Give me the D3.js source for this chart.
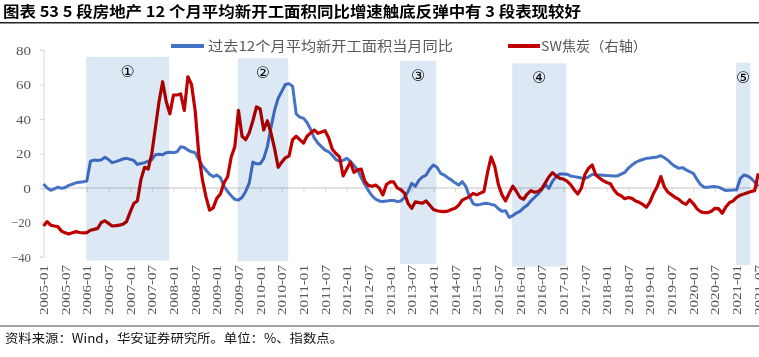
<!DOCTYPE html>
<html><head><meta charset="utf-8">
<script src="https://cdn.jsdelivr.net/npm/d3@7"></script>
<style>body{margin:0;background:#fff}svg{display:block}</style>
</head><body><svg id="c" width="759" height="357"></svg>
<script>
const startMonth = "2005-01";
const tickLabels = ["2005-01","2005-07","2006-01","2006-07","2007-01","2007-07","2008-01","2008-07","2009-01","2009-07","2010-01","2010-07","2011-01","2011-07","2012-01","2012-07","2013-01","2013-07","2014-01","2014-07","2015-01","2015-07","2016-01","2016-07","2017-01","2017-07","2018-01","2018-07","2019-01","2019-07","2020-01","2020-07","2021-01","2021-07"];
const yTicks = [80,60,40,20,0,-20,-40];
// 过去12个月平均新开工面积当月同比 (monthly from 2005-01)
const newStartsYoY = [2.3,0,-1.3,-0.5,0.5,-0.2,0.3,1.5,2.2,3,3.3,3.6,4,15.5,16.2,16,16.3,17.8,16.5,14.7,15.3,16,16.8,17.2,16.6,16,13.7,14.2,14.7,15.5,
16.5,19.3,19.5,19.3,20.5,20.7,20.5,21,23.9,23.5,22,21,20.5,16.5,13,10.4,8,6.6,7.5,6,
1,-2,-4.5,-6.6,-7,-5.5,-2,3,15,14,14,17,24,35,45,52,56,60,60.5,59,
43,41,40.5,38,34,29,26,24,22,21,19,16.5,15.5,16,17.2,15.5,13,10.5,6,2,
-1.5,-4.5,-6.5,-7.5,-7.8,-7.6,-7.3,-7.2,-7.9,-7.5,-5.5,-2,2.7,1,4.5,6.5,7.5,11,13.3,12,
8.5,7.5,6,4.6,3,1.7,3.7,0.8,-5,-9,-9.9,-9.5,-9,-8.9,-9.5,-10,-12,-13.5,-13.2,-17,
-16,-14.5,-13.5,-11.5,-10,-7.5,-5.5,-3.5,-1,2,-0.2,4,6.5,8.1,8.1,8,7,6.6,6.2,5.8,
5.6,6.5,7.9,7.6,7.5,7.4,7.2,7.1,7,7,8,9,11.5,13.3,14.8,15.8,16.5,17.2,17.4,17.7,
18,18.7,17.5,16,14,12.5,11.4,11.8,10.5,9.5,8.5,5,2,0.4,0.5,0.7,0.8,0.5,-0.5,-1.5,
-1.3,-1.2,-1,5.5,7.5,7,5.6,3.5,0.8];
// SW焦炭（右轴）
const swCoke = [-22,-19.5,-21.5,-22,-22.4,-25,-26,-26.7,-26,-25.3,-25.8,-26,-25.9,-24.5,-24,-23.4,-20,-19,-20.5,-22,-21.8,-21.5,-21,-19.5,-14,-9,-7.5,5,12,11,
20,35,50,61.6,50,43,53.9,53.9,54.5,45,64.5,60,45,20,5,-5,-12.8,-11.5,-6,-3.5,
3,6.5,18,24,45,30,28,32,39,47,46,33.6,39,32,23,12,15,17.5,18.5,28,
30,28,26,30,32,33.6,31.7,32.5,33.2,29,22.5,20,18,7,11,15,9,10.5,11,4,
1.5,1,1.7,0,-4,2,3.5,3.5,0,-1,-3,-9,-11.8,-8,-8.5,-8.8,-7.5,-10,-12.5,-13.2,
-13.6,-13.7,-13.4,-12.5,-11.8,-10,-7,-6,-5,-3.1,-4,-3,-2,9,18,12.5,2,-4,-7.5,-3,
1,-2,-5.5,-6.5,-3.5,-1.5,-2.5,-2,-0.5,3,6.5,8.9,7,5.6,5.2,4,2,-1,-3.5,0,
8,11.5,13.3,7.5,5.8,4.3,3.2,2.5,-1,-3.5,-4.5,-6.2,-5.5,-6,-7.5,-8.3,-9.5,-11.2,-8,-3,
0.8,6.6,0.5,-2.5,-4,-5.5,-6.6,-8.5,-9.5,-6.8,-9,-12,-13.7,-14.3,-14.3,-13.5,-11.8,-12,-14.7,-11,
-8.5,-7.5,-5.4,-4.2,-3.5,-2.7,-2,-1.5,8.5];
// shaded phases
const bandLabels = ["①","②","③","④","⑤"];
const bandStart = ["2006-01","2009-07","2013-04","2015-11","2021-01"];
const bandEnd   = ["2007-11","2010-08","2014-01","2017-01","2021-04"];
const bandTop   = [76,75.2,73.8,72.3,72.6];
const bandBottom= [-42,-42.3,-44,-45.6,-44.6];

const mIdx = s => { const [y,m] = s.split("-").map(Number); const [y0,m0] = startMonth.split("-").map(Number); return (y-y0)*12 + (m-m0); };

const svg = d3.select("#c");
const x = d3.scaleLinear().domain([0,198]).range([43.5, 758.3]);
const y = d3.scaleLinear().domain([-40,80]).range([257,50]);
const gray = "#595959", axisC = "#d9d9d9";
const serif = "'Liberation Serif','Times New Roman',serif";
const cjk = "'Noto Sans CJK SC','Noto Sans',sans-serif";

// title
svg.append("text").attr("x",3).attr("y",17).attr("font-family",cjk).attr("font-weight","bold")
  .attr("font-size",15).attr("fill","#000").attr("textLength",578).attr("lengthAdjust","spacingAndGlyphs")
  .text("图表 53 5 段房地产 12 个月平均新开工面积同比增速触底反弹中有 3 段表现较好");
svg.append("line").attr("x1",0).attr("x2",759).attr("y1",22.7).attr("y2",22.7).attr("stroke","#222").attr("stroke-width",1.4);
svg.append("line").attr("x1",0).attr("x2",759).attr("y1",326).attr("y2",326).attr("stroke","#444").attr("stroke-width",1.2);
svg.append("text").attr("x",5).attr("y",343).attr("font-family",cjk).attr("font-size",12.5).attr("fill","#111")
  .attr("textLength",338).attr("lengthAdjust","spacingAndGlyphs")
  .text("资料来源：Wind，华安证券研究所。单位：%、指数点。");

// y axis
const yAxis = svg.append("g").attr("transform","translate(44,0)")
  .call(d3.axisLeft(y).tickValues(yTicks).tickSize(4).tickPadding(9).tickFormat(d3.format("d")));
yAxis.select(".domain").attr("stroke",axisC).attr("d","M-4,"+y(80)+"H0V"+y(-40)+"H-4");
yAxis.selectAll(".tick line").attr("stroke",axisC);
yAxis.selectAll(".tick text").attr("fill",gray).attr("font-family",serif).attr("font-size",13)
  .attr("textLength",function(d){return d<0?20:(d===0?7.7:15);}).attr("lengthAdjust","spacingAndGlyphs");

// zero axis with ticks
const tickPos = tickLabels.map(mIdx);
const xAxis = svg.append("g").attr("transform","translate(0,"+y(0)+")")
  .call(d3.axisBottom(x).tickValues(tickPos).tickSize(4).tickFormat(""));
xAxis.select(".domain").attr("stroke",axisC).attr("stroke-width",1.3).attr("d","M44,0H759");
xAxis.selectAll(".tick line").attr("stroke",axisC);

// x labels (rotated)
svg.append("g").selectAll("text").data(tickLabels).join("text")
  .attr("transform",d=>"translate("+(x(mIdx(d))+4.5)+",265) rotate(-90)")
  .attr("text-anchor","end").attr("font-family",serif).attr("font-size",12.5).attr("fill",gray)
  .attr("textLength",50).attr("lengthAdjust","spacingAndGlyphs").text(d=>d);

// lines
const line = d3.line().x((d,i)=>x(i)).y(d=>y(d)).curve(d3.curveLinear);
svg.append("path").datum(newStartsYoY).attr("d",line).attr("fill","none").attr("stroke","#4472C4").attr("stroke-width",3).attr("stroke-linejoin","round");
svg.append("path").datum(swCoke).attr("d",line).attr("fill","none").attr("stroke","#C00000").attr("stroke-width",3.2).attr("stroke-linejoin","round");

// bands (multiply overlay)
bandLabels.forEach((lab,i)=>{
  const x0 = x(mIdx(bandStart[i])-0.2), x1 = x(mIdx(bandEnd[i])+0.8);
  svg.append("rect").attr("x",x0).attr("width",x1-x0).attr("y",y(bandTop[i])).attr("height",y(bandBottom[i])-y(bandTop[i]))
    .attr("fill","#dde8f5").style("mix-blend-mode","multiply");
  svg.append("text").attr("x",(x0+x1)/2).attr("y",y(bandTop[i])+20).attr("text-anchor","middle")
    .attr("font-family","'DejaVu Sans',sans-serif").attr("font-size",16).attr("fill","#000").text(lab);
});

// legend
svg.append("line").attr("x1",171).attr("x2",204).attr("y1",46).attr("y2",46).attr("stroke","#4472C4").attr("stroke-width",4);
svg.append("text").attr("x",208).attr("y",51).attr("font-family",cjk).attr("font-size",13.5).attr("fill",gray)
  .attr("textLength",245).attr("lengthAdjust","spacingAndGlyphs").text("过去12个月平均新开工面积当月同比");
svg.append("line").attr("x1",508).attr("x2",540).attr("y1",46).attr("y2",46).attr("stroke","#C00000").attr("stroke-width",4);
svg.append("text").attr("x",541).attr("y",51).attr("font-family",cjk).attr("font-size",13.5).attr("fill",gray)
  .attr("textLength",106).attr("lengthAdjust","spacingAndGlyphs").text("SW焦炭（右轴）");
</script></body></html>
